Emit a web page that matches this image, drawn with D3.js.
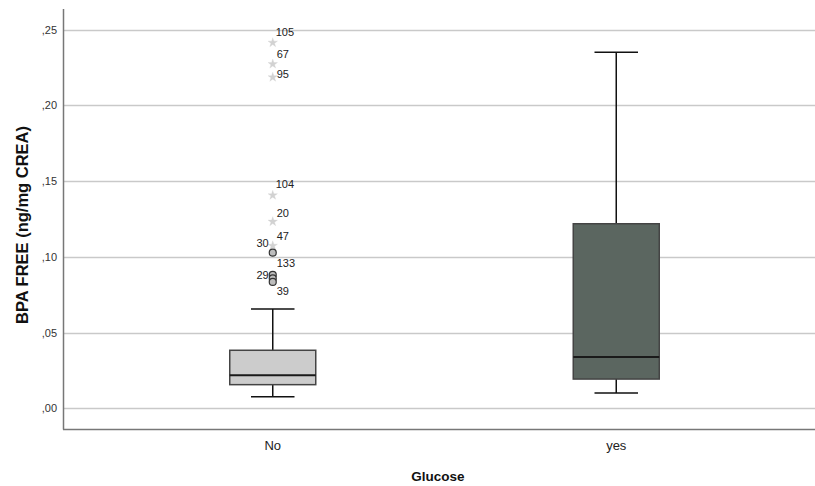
<!DOCTYPE html>
<html>
<head>
<meta charset="utf-8">
<script src="https://cdn.jsdelivr.net/npm/d3@7/dist/d3.min.js"></script>
<style>
  html, body { margin: 0; padding: 0; background: #fff; }
  svg { display: block; font-family: Arial, "Liberation Sans", sans-serif; }
</style>
</head>
<body>
<svg id="chart" width="815" height="486"></svg>
<script>
// ---- data ----
const categories   = ["No", "yes"];
const whiskerLow   = [0.0077, 0.0101];
const q1           = [0.0156, 0.0193];
const median       = [0.0218, 0.0339];
const q3           = [0.0383, 0.1218];
const whiskerHigh  = [0.0655, 0.2350];
const boxFills     = ["#cccccc", "#5b6660"];

// outliers of group "No": id, value, kind (star = extreme, circle = outlier)
const outlierIds    = [105, 67, 95, 104, 20, 47, 30, 133, 29, 39];
const outlierValues = [0.2413, 0.2272, 0.2185, 0.1406, 0.1232, 0.1073, 0.1027, 0.0880, 0.0857, 0.0834];
const outlierKinds  = ["star","star","star","star","star","star","circle","circle","circle","circle"];
const outlierGroup  = "No";

const yTicks = [0, 0.05, 0.10, 0.15, 0.20, 0.25];
const yTitle = "BPA FREE (ng/mg CREA)";
const xTitle = "Glucose";

// label placement (style): dx, dy, anchor
const labelPlace = {
  105: [3, -7, "start"], 67: [4, -6, "start"], 95: [4, 1, "start"],
  104: [3, -7, "start"], 20: [4, -5, "start"], 47: [4, -6, "start"],
  30: [-4, -6, "end"], 133: [4, -8, "start"], 29: [-4, 1, "end"], 39: [4, 13, "start"]
};

// ---- layout ----
const svg = d3.select("#chart");
const plotLeft = 63, plotRight = 815, plotTop = 9, plotBottom = 429;

const y = d3.scaleLinear().domain([0, 0.25]).range([408.3, 29.5]);
const x = d3.scaleBand().domain(categories).range([101, 788]).paddingInner(0).paddingOuter(0);
const boxW = 86, capW = 43.5;
const cx = c => x(c) + x.bandwidth() / 2;

// gridlines
svg.append("g").selectAll("line").data(yTicks).join("line")
  .attr("x1", plotLeft).attr("x2", plotRight)
  .attr("y1", d => Math.round(y(d)) + 0.5).attr("y2", d => Math.round(y(d)) + 0.5)
  .attr("stroke", "#c9c9c9").attr("stroke-width", 1.4);

// y axis using d3 axis
const fmt = d => d3.format(".2f")(d).replace(/^0/, "").replace(".", ",");
const yAxis = d3.axisLeft(y).tickValues(yTicks).tickFormat(fmt).tickSize(0).tickPadding(6);
const gy = svg.append("g").attr("transform", `translate(${plotLeft},0)`).call(yAxis);
gy.select(".domain").remove();
gy.selectAll("text").attr("font-size", 11).attr("fill", "#333").attr("font-family", "Arial, 'Liberation Sans', sans-serif");

// x axis labels
const xAxis = d3.axisBottom(x).tickSize(0).tickPadding(12);
const gx = svg.append("g").attr("transform", `translate(0,${plotBottom})`).call(xAxis);
gx.select(".domain").remove();
gx.selectAll("text").attr("font-size", 13).attr("fill", "#222").attr("font-family", "Arial, 'Liberation Sans', sans-serif");

// axis lines
svg.append("line").attr("x1", plotLeft + 0.5).attr("x2", plotLeft + 0.5).attr("y1", plotTop).attr("y2", plotBottom + 0.5)
  .attr("stroke", "#777").attr("stroke-width", 1.5);
svg.append("line").attr("x1", plotLeft).attr("x2", plotRight).attr("y1", plotBottom + 0.5).attr("y2", plotBottom + 0.5)
  .attr("stroke", "#777").attr("stroke-width", 1.5);

// boxes
const stats = categories.map((c, i) => ({
  c, lo: whiskerLow[i], q1: q1[i], med: median[i], q3: q3[i], hi: whiskerHigh[i], fill: boxFills[i]
}));
const g = svg.append("g").selectAll("g").data(stats).join("g");
g.append("line").attr("x1", d => cx(d.c)).attr("x2", d => cx(d.c))
  .attr("y1", d => y(d.hi)).attr("y2", d => y(d.q3)).attr("stroke", "#111").attr("stroke-width", 1.5);
g.append("line").attr("x1", d => cx(d.c)).attr("x2", d => cx(d.c))
  .attr("y1", d => y(d.q1)).attr("y2", d => y(d.lo)).attr("stroke", "#111").attr("stroke-width", 1.5);
g.append("line").attr("x1", d => cx(d.c) - capW / 2).attr("x2", d => cx(d.c) + capW / 2)
  .attr("y1", d => y(d.hi)).attr("y2", d => y(d.hi)).attr("stroke", "#111").attr("stroke-width", 1.5);
g.append("line").attr("x1", d => cx(d.c) - capW / 2).attr("x2", d => cx(d.c) + capW / 2)
  .attr("y1", d => y(d.lo)).attr("y2", d => y(d.lo)).attr("stroke", "#111").attr("stroke-width", 1.5);
g.append("rect").attr("x", d => cx(d.c) - boxW / 2).attr("width", boxW)
  .attr("y", d => y(d.q3)).attr("height", d => y(d.q1) - y(d.q3))
  .attr("fill", d => d.fill).attr("stroke", "#444").attr("stroke-width", 1.5);
g.append("line").attr("x1", d => cx(d.c) - boxW / 2).attr("x2", d => cx(d.c) + boxW / 2)
  .attr("y1", d => y(d.med)).attr("y2", d => y(d.med)).attr("stroke", "#1a1a1a").attr("stroke-width", 2);

// outliers
const outliers = outlierIds.map((id, i) => ({ id, v: outlierValues[i], kind: outlierKinds[i] }));
const og = svg.append("g");
const ox = cx(outlierGroup);
const star = d3.symbol().type(d3.symbolStar).size(28);
og.selectAll("path.star").data(outliers.filter(d => d.kind === "star")).join("path")
  .attr("class", "star").attr("d", star)
  .attr("transform", d => `translate(${ox},${y(d.v)})`)
  .attr("fill", "#d2d2d2").attr("stroke", "#d2d2d2").attr("stroke-width", 0.3);
og.selectAll("circle").data(outliers.filter(d => d.kind === "circle")).join("circle")
  .attr("cx", ox).attr("cy", d => y(d.v)).attr("r", 3.5)
  .attr("fill", "#bdbdbd").attr("stroke", "#333").attr("stroke-width", 1.2);
og.selectAll("text").data(outliers).join("text")
  .attr("x", d => ox + labelPlace[d.id][0]).attr("y", d => y(d.v) + labelPlace[d.id][1])
  .attr("text-anchor", d => labelPlace[d.id][2])
  .attr("font-size", 11).attr("fill", "#222")
  .text(d => d.id);

// titles
svg.append("text").attr("transform", `translate(28,225) rotate(-90)`)
  .attr("text-anchor", "middle").attr("font-size", 16.5).attr("font-weight", "bold").attr("fill", "#111")
  .text(yTitle);
svg.append("text").attr("x", 438).attr("y", 481)
  .attr("text-anchor", "middle").attr("font-size", 13.5).attr("font-weight", "bold").attr("fill", "#111")
  .text(xTitle);
</script>
</body>
</html>
